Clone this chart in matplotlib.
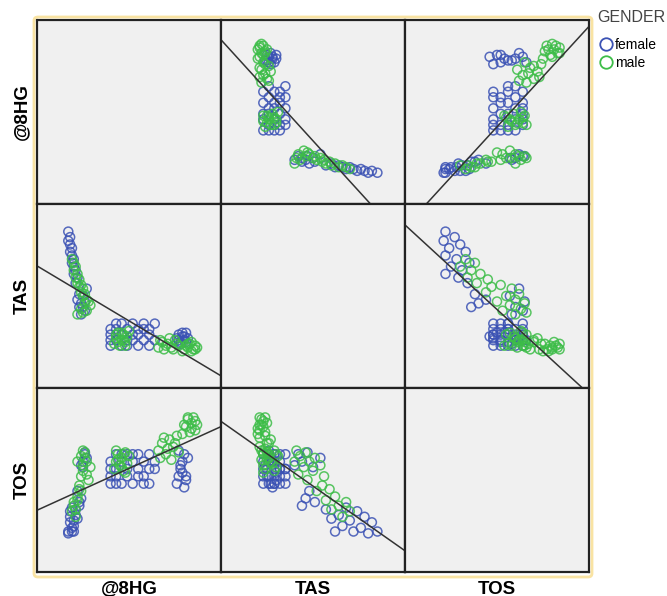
import numpy as np
import matplotlib
matplotlib.use("Agg")
import matplotlib.pyplot as plt
from matplotlib.lines import Line2D
from matplotlib.patches import FancyBboxPatch

plt.rcParams['font.family'] = ['Liberation Sans', 'DejaVu Sans']

variables = ["@8HG", "TAS", "TOS"]
genders = ["female", "male"]

# per-observation values (scaled 0-100), read off the scatter matrix
# female: low @8HG group, mid group, high group
female_hg = [17, 18, 17, 18, 19, 18, 19, 20, 19, 20, 21, 20, 22, 21, 23, 22, 24, 23, 25, 26, 24, 27, 25, 26,
             40, 40, 40, 40, 43, 43, 43, 43, 46, 46, 46, 49, 49, 49, 52, 52, 52, 55, 55, 55, 58, 58,
             61, 61, 61, 64, 64, 58,
             76, 77, 78, 79, 80, 81, 78, 80, 82, 79, 77, 81]
female_tas = [85, 82, 80, 78, 76, 74, 72, 70, 68, 66, 64, 62, 60, 57, 51, 48, 46, 44, 44, 42, 40, 54, 50, 47,
              23, 26, 29, 32, 26, 29, 32, 35, 23, 29, 35, 26, 32, 23, 29, 35, 26, 23, 32, 29, 26, 35,
              29, 23, 32, 26, 35, 32,
              27, 29, 25, 28, 26, 30, 24, 28, 27, 30, 26, 25]
female_tos = [22, 27, 21, 30, 24, 33, 22, 28, 35, 25, 31, 22, 29, 34, 38, 44, 40, 36, 60, 64, 58, 62, 57, 65,
              48, 52, 56, 60, 64, 48, 52, 56, 60, 64, 48, 52, 56, 64, 60, 64, 48, 52, 56, 64, 60, 52,
              48, 56, 64, 60, 56, 48,
              48, 52, 56, 60, 64, 50, 58, 46, 62, 54, 66, 52]

# male: low @8HG group, mid group, high group
male_hg = [19, 20, 21, 20, 22, 21, 23, 22, 24, 23, 25, 24, 26, 25, 27, 28, 26, 29, 24, 27, 22, 25,
           42, 43, 44, 45, 46, 47, 48, 49, 50, 44, 46, 48, 43, 47,
           80, 82, 84, 86, 83, 85, 81, 87, 79, 84, 86, 82,
           66, 68, 70, 72, 74, 76, 67, 69, 71, 73, 75, 77]
male_tas = [70, 68, 66, 64, 62, 60, 59, 57, 56, 55, 54, 52, 51, 50, 48, 47, 46, 45, 43, 42, 40, 41,
            24, 27, 30, 23, 26, 29, 25, 28, 31, 25, 30, 23, 29, 26,
            21, 22, 20, 23, 24, 21, 23, 22, 20, 25, 21, 24,
            22, 25, 23, 27, 21, 24, 26, 21, 24, 22, 26, 23]
male_tos = [33, 38, 30, 36, 41, 34, 45, 39, 52, 47, 58, 44, 62, 55, 60, 50, 65, 57, 63, 53, 60, 66,
            56, 60, 64, 58, 62, 55, 65, 59, 63, 61, 57, 54, 66, 64,
            80, 83, 78, 82, 76, 84, 79, 80, 75, 81, 77, 84,
            66, 70, 64, 72, 68, 74, 62, 73, 67, 61, 70, 65]

limits = (0, 100)
colors = {"female": "#3b52b4", "male": "#3dbd48"}

data = {
    "female": [np.array(female_hg), np.array(female_tas), np.array(female_tos)],
    "male": [np.array(male_hg), np.array(male_tas), np.array(male_tos)],
}
all_vals = [np.concatenate([data["female"][i], data["male"][i]]) for i in range(3)]

W, H = 667, 596
fig = plt.figure(figsize=(W / 100, H / 100), dpi=100)

# yellow frame around the matrix
frame = FancyBboxPatch((34 / W, 1 - 577 / H), 558 / W, 560 / H,
                       boxstyle="round,pad=0,rounding_size=0.006",
                       transform=fig.transFigure, fc="none", ec="#f9e3a3", lw=2)
fig.patches.append(frame)

x0, y0, size = 37, 20, 184
for r in range(3):
    for c in range(3):
        ax = fig.add_axes([(x0 + c * size) / W, 1 - (y0 + (r + 1) * size) / H,
                           size / W, size / H])
        ax.set_facecolor("#f0f0f0")
        ax.set_xlim(limits)
        ax.set_ylim(limits)
        ax.set_xticks([])
        ax.set_yticks([])
        for s in ax.spines.values():
            s.set_linewidth(1.6)
            s.set_color("#222222")
        if r == c:
            continue
        for g in genders:
            ax.scatter(data[g][c], data[g][r], s=42, facecolors="none",
                       edgecolors=colors[g], linewidths=1.1, alpha=0.85)
        # total fit line across the panel
        k, b = np.polyfit(all_vals[c], all_vals[r], 1)
        xs = np.array(limits, dtype=float)
        ax.plot(xs, k * xs + b, color="#333333", lw=1.1)

for i, name in enumerate(variables):
    fig.text((x0 + (i + 0.5) * size) / W, 1 - 589 / H, name, ha="center", va="center",
             fontsize=13.5, fontweight="bold")
    fig.text(22 / W, 1 - (y0 + (i + 0.5) * size) / H, name, ha="center", va="center",
             rotation=90, fontsize=13.5, fontweight="bold")

fig.text(597 / W, 1 - 18 / H, "GENDER", ha="left", va="center", fontsize=11.5, color="#444444")
handles = [Line2D([], [], ls="none", marker="o", markerfacecolor="none",
                  markeredgecolor=colors[g], markersize=9, markeredgewidth=1.3) for g in genders]
fig.legend(handles, genders, loc="upper left", bbox_to_anchor=(600 / W, 1 - 38 / H),
           frameon=False, fontsize=10, handlelength=0.9, handletextpad=0.15,
           labelspacing=0.3, borderaxespad=0, borderpad=0)

fig.savefig("out.png", dpi=100)
